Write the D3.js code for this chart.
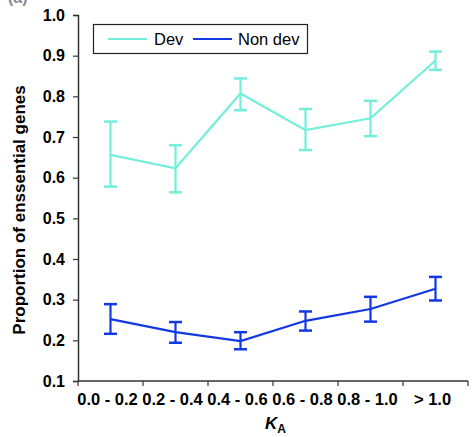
<!DOCTYPE html>
<html>
<head>
<meta charset="utf-8">
<script src="https://cdn.jsdelivr.net/npm/d3@7"></script>
<style>
  body { margin: 0; background: #fff; }
  svg { font-family: "Liberation Sans", Arial, sans-serif; }
</style>
</head>
<body>
<svg id="chart" width="472" height="437"></svg>
<script>
// bins of K_A
const categories = ["0.0 - 0.2", "0.2 - 0.4", "0.4 - 0.6", "0.6 - 0.8", "0.8 - 1.0", "> 1.0"];
const yTicks = [0.1, 0.2, 0.3, 0.4, 0.5, 0.6, 0.7, 0.8, 0.9, 1.0];

// developmental genes
const devMean = [0.656, 0.623, 0.807, 0.717, 0.746, 0.888];
const devLow  = [0.578, 0.564, 0.766, 0.668, 0.702, 0.865];
const devHigh = [0.738, 0.680, 0.844, 0.769, 0.789, 0.910];

// non developmental genes
const nonMean = [0.252, 0.220, 0.198, 0.248, 0.277, 0.327];
const nonLow  = [0.216, 0.194, 0.178, 0.224, 0.246, 0.298];
const nonHigh = [0.289, 0.245, 0.220, 0.271, 0.307, 0.356];

const series = [
  { name: "Dev", color: "#72eedb", mean: devMean, low: devLow, high: devHigh },
  { name: "Non dev", color: "#1238e4", mean: nonMean, low: nonLow, high: nonHigh }
];

const svg = d3.select('#chart');
const mL = 78, mR = 468, mT = 15, mB = 381;

const x = d3.scaleBand().domain(categories).range([mL, mR]);
const y = d3.scaleLinear().domain([0.1, 1.0]).range([mB, mT]);

// panel label, cropped at the top edge as in the source figure
svg.append('text').attr('x', 8).attr('y', 3)
  .style('font-size', '16px').style('font-weight', 'bold').attr('fill', '#888')
  .text('(a)');

// y axis
const ya = svg.append('g').attr('transform', `translate(${mL},0)`)
  .call(d3.axisLeft(y).tickValues(yTicks).tickFormat(d3.format('.1f')).tickSize(5).tickPadding(8));
ya.select('.domain').attr('stroke', '#333').attr('stroke-width', 1.5);
ya.selectAll('.tick line').attr('stroke', '#333').attr('stroke-width', 1.2);
ya.selectAll('text').style('font-size', '16px').style('font-weight', 'bold')
  .attr('fill', '#000').attr('font-family', '"Liberation Sans", Arial, sans-serif');

// x axis: ticks on category boundaries
const xa = svg.append('g').attr('transform', `translate(0,${mB})`);
xa.append('line').attr('x1', mL).attr('x2', mR).attr('stroke', '#333').attr('stroke-width', 1.5);
const bounds = categories.map(c => x(c)).concat([mR]);
xa.selectAll('.bt').data(bounds).enter().append('line')
  .attr('x1', d => d).attr('x2', d => d).attr('y1', 0).attr('y2', 5)
  .attr('stroke', '#333').attr('stroke-width', 1.2);
xa.selectAll('.lbl').data(categories).enter().append('text')
  .attr('x', d => x(d) + x.bandwidth() / 2 - 3).attr('y', 24)
  .attr('text-anchor', 'middle')
  .style('font-size', '16.5px').style('font-weight', 'bold')
  .text(d => d);

// axis titles
svg.append('text')
  .attr('transform', 'translate(25,210) rotate(-90)')
  .attr('text-anchor', 'middle')
  .style('font-size', '17px').style('font-weight', 'bold')
  .text('Proportion of enssential genes');

const xt = svg.append('text').attr('x', 265).attr('y', 429)
  .style('font-size', '17px').style('font-weight', 'bold');
xt.append('tspan').style('font-style', 'italic').text('K');
xt.append('tspan').attr('dy', 4).style('font-size', '12px').text('A');

// lines and error bars
const cx = d => x(d) + x.bandwidth() / 2;
const line = d3.line().x((d, i) => cx(categories[i])).y(d => y(d));

series.forEach(s => {
  const g = svg.append('g');
  g.append('path').datum(s.mean).attr('d', line)
    .attr('fill', 'none').attr('stroke', s.color).attr('stroke-width', 2.2);
  categories.forEach((c, i) => {
    const px = cx(c);
    g.append('line').attr('x1', px).attr('x2', px)
      .attr('y1', y(s.low[i])).attr('y2', y(s.high[i]))
      .attr('stroke', s.color).attr('stroke-width', 2.2);
    [s.low[i], s.high[i]].forEach(v => {
      g.append('line').attr('x1', px - 6.5).attr('x2', px + 6.5)
        .attr('y1', y(v)).attr('y2', y(v))
        .attr('stroke', s.color).attr('stroke-width', 2.5);
    });
  });
});

// legend
const lg = svg.append('g');
lg.append('rect').attr('x', 93.5).attr('y', 24.5).attr('width', 214).attr('height', 29)
  .attr('fill', '#fff').attr('stroke', '#222').attr('stroke-width', 1.2);
const items = [{ s: series[0], x1: 108, tx: 154 }, { s: series[1], x1: 193, tx: 238 }];
items.forEach(it => {
  lg.append('line').attr('x1', it.x1).attr('x2', it.x1 + 39).attr('y1', 39).attr('y2', 39)
    .attr('stroke', it.s.color).attr('stroke-width', 2.2);
  lg.append('text').attr('x', it.tx).attr('y', 45)
    .style('font-size', '16.5px').text(it.s.name);
});
</script>
</body>
</html>
